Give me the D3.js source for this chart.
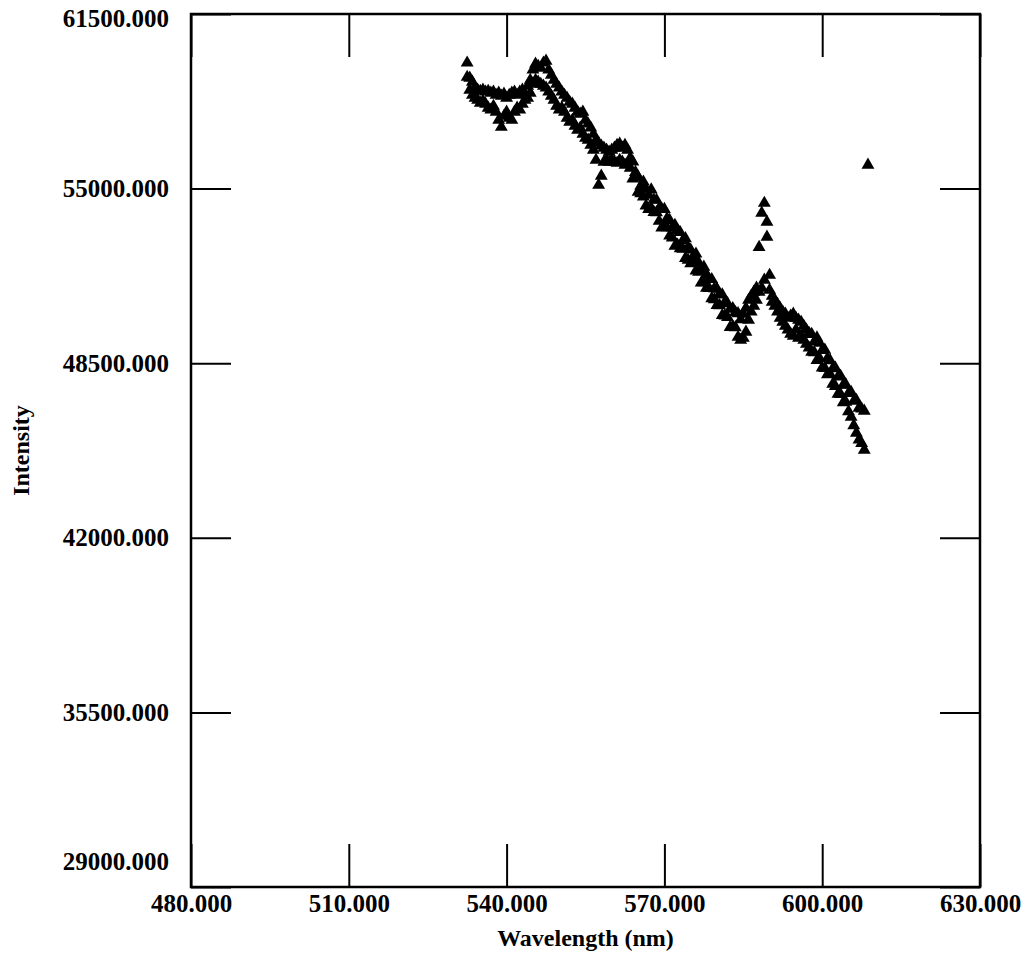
<!DOCTYPE html>
<html lang="en">
<head>
    <meta charset="UTF-8">
    <title>Intensity vs Wavelength</title>
    <script src="https://d3js.org/d3.v7.min.js"></script>
    <style>
        body {
            margin: 0;
            background: #fff;
        }
        svg {
            display: block;
            font-family: 'Liberation Serif', 'DejaVu Serif', serif;
        }
        .tick text {
            font-family: 'Liberation Serif', 'DejaVu Serif', serif;
            font-size: 25px;
            font-weight: bold;
            fill: #000;
        }
        .axis-title {
            font-family: 'Liberation Serif', 'DejaVu Serif', serif;
            font-size: 24px;
            font-weight: bold;
            fill: #000;
        }
    </style>
</head>
<body>
    <div id="chart"></div>
    <script>
        // tick labels
        const xTicks = [480, 510, 540, 570, 600, 630];
        const yTicks = [29000, 35500, 42000, 48500, 55000, 61500];

        // wavelength grid (nm) shared by both scans
        const wavelengths = [
            532.5, 533.0, 533.5, 534.0, 534.5, 535.0, 535.5, 536.0, 536.5, 537.0,
            537.5, 538.0, 538.5, 539.0, 539.5, 540.0, 540.5, 541.0, 541.5, 542.0,
            542.5, 543.0, 543.5, 544.0, 544.5, 545.0, 545.5, 546.0, 546.5, 547.0,
            547.5, 548.0, 548.5, 549.0, 549.5, 550.0, 550.5, 551.0, 551.5, 552.0,
            552.5, 553.0, 553.5, 554.0, 554.5, 555.0, 555.5, 556.0, 556.5, 557.0,
            557.5, 558.0, 558.5, 559.0, 559.5, 560.0, 560.5, 561.0, 561.5, 562.0,
            562.5, 563.0, 563.5, 564.0, 564.5, 565.0, 565.5, 566.0, 566.5, 567.0,
            567.5, 568.0, 568.5, 569.0, 569.5, 570.0, 570.5, 571.0, 571.5, 572.0,
            572.5, 573.0, 573.5, 574.0, 574.5, 575.0, 575.5, 576.0, 576.5, 577.0,
            577.5, 578.0, 578.5, 579.0, 579.5, 580.0, 580.5, 581.0, 581.5, 582.0,
            582.5, 583.0, 583.5, 584.0, 584.5, 585.0, 585.5, 586.0, 586.5, 587.0,
            587.5, 588.0, 588.5, 589.0, 589.5, 590.0, 590.5, 591.0, 591.5, 592.0,
            592.5, 593.0, 593.5, 594.0, 594.5, 595.0, 595.5, 596.0, 596.5, 597.0,
            597.5, 598.0, 598.5, 599.0, 599.5, 600.0, 600.5, 601.0, 601.5, 602.0,
            602.5, 603.0, 603.5, 604.0, 604.5, 605.0, 605.5, 606.0, 606.5, 607.0,
            607.5, 608.0
        ];

        // upper scan intensities
        const upperScan = [
            59680, 59120, 58970, 58750, 58670, 58630, 58670, 58600, 58630, 58560,
            58600, 58480, 58560, 58450, 58520, 58370, 58480, 58560, 58600, 58480,
            58600, 58670, 58520, 58820, 59040, 59420, 59640, 59560, 59490, 59680,
            59750, 59420, 59230, 59040, 58890, 58750, 58600, 58480, 58370, 58220,
            58150, 58000, 57850, 57780, 57850, 57550, 57410, 57260, 57030, 56810,
            56700, 56590, 56510, 56440, 56360, 56440, 56510, 56620, 56660, 56510,
            56620, 56440, 56140, 56000, 55610, 55430, 55100, 55250, 54990, 54760,
            54960, 54580, 54570, 54260, 54230, 54230, 53890, 53820, 53540, 53640,
            53450, 53370, 53070, 53140, 52820, 52720, 52490, 52570, 52250, 51950,
            52080, 51810, 51620, 51620, 51280, 51260, 51080, 51050, 50780, 50720,
            50520, 50540, 50390, 50350, 50130, 50330, 50550, 50850, 51000, 51150,
            51300, 52820, 54090, 54460, 53760, 51780, 51000, 50850, 50700, 50550,
            50410, 50330, 50180, 50260, 50330, 50180, 50110, 50030, 49880, 49740,
            49620, 49580, 49300, 49450, 49250, 48980, 48990, 48680, 48600, 48300,
            48320, 47990, 48020, 47690, 47700, 47380, 47420, 47090, 47120, 46830,
            46800, 46720
        ];

        // lower scan intensities
        const lowerScan = [
            59150, 58670, 58480, 58370, 58300, 58190, 58260, 58150, 58000, 57930,
            58070, 57850, 57550, 57290, 57700, 57850, 57630, 57550, 57850, 58000,
            57930, 58150, 58300, 58370, 58560, 58890, 59040, 58970, 58890, 58820,
            58750, 58600, 58450, 58300, 58070, 57930, 58000, 57850, 57630, 57480,
            57550, 57330, 57180, 57260, 57030, 56880, 56810, 56620, 56440, 56060,
            55130, 55470, 55990, 56060, 55990, 56060, 55990, 55950, 56060, 55990,
            55880, 55920, 55770, 55370, 55400, 54870, 54820, 54700, 54360, 54230,
            54270, 54120, 54110, 53790, 53540, 53590, 53550, 53240, 53170, 52860,
            52900, 52770, 52750, 52410, 52340, 52210, 52250, 51940, 51890, 51490,
            51500, 51300, 51290, 50910, 50870, 50660, 50650, 50280, 50270, 50210,
            49840, 49860, 49830, 49470, 49360, 49440, 49660, 50110, 50410, 50630,
            50850, 51150, 51300, 51600, 53200, 51220, 50780, 50630, 50410, 50180,
            50030, 49880, 49740, 49590, 49510, 49740, 49440, 49510, 49360, 49210,
            49070, 48920, 48900, 48610, 48680, 48330, 48310, 48080, 48090, 47720,
            47640, 47350, 47340, 47040, 47050, 46700, 46500, 46180, 45900, 45650,
            45520, 45270
        ];

        // isolated point
        const strayWavelengths = [608.7];
        const strayIntensities = [55880];

        const W = 1033, H = 961;
        const margin = {top: 14, right: 53, bottom: 74, left: 191};
        const width = W - margin.left - margin.right;
        const height = H - margin.top - margin.bottom;

        const svg = d3.select("#chart")
            .append("svg")
            .attr("width", W)
            .attr("height", H);

        const g = svg.append("g")
            .attr("transform", `translate(${margin.left},${margin.top})`);

        const x = d3.scaleLinear().domain([480, 630]).range([0, width]);
        const y = d3.scaleLinear().domain([29000, 61500]).range([height, 0]);
        const fmt = d3.format(".3f");

        // bottom axis with labels, inward ticks
        g.append("g")
            .attr("transform", `translate(0,${height})`)
            .call(d3.axisBottom(x).tickValues(xTicks).tickFormat(fmt)
                .tickSizeInner(-43).tickSizeOuter(0).tickPadding(7))
            .call(a => a.select(".domain").remove());

        // top axis, ticks only
        g.append("g")
            .call(d3.axisTop(x).tickValues(xTicks).tickFormat("")
                .tickSizeInner(-43).tickSizeOuter(0))
            .call(a => a.select(".domain").remove());

        // left axis with labels
        const yAxis = g.append("g")
            .call(d3.axisLeft(y).tickValues(yTicks).tickFormat(fmt)
                .tickSizeInner(-40).tickSizeOuter(0).tickPadding(22))
            .call(a => a.select(".domain").remove());

        // right axis, ticks only
        g.append("g")
            .attr("transform", `translate(${width},0)`)
            .call(d3.axisRight(y).tickValues(yTicks).tickFormat("")
                .tickSizeInner(-40).tickSizeOuter(0))
            .call(a => a.select(".domain").remove());

        g.selectAll(".tick line")
            .attr("stroke", "#000")
            .attr("stroke-width", 2);

        // nudge the end labels the way the original does
        yAxis.selectAll(".tick text")
            .attr("dy", d => d === 29000 ? "-0.7em" : d === 61500 ? "0.5em" : "0.32em");

        // frame
        g.append("rect")
            .attr("width", width)
            .attr("height", height)
            .attr("fill", "none")
            .attr("stroke", "#000")
            .attr("stroke-width", 2.5);

        // axis titles
        svg.append("text")
            .attr("class", "axis-title")
            .attr("x", margin.left + width / 2)
            .attr("y", 946)
            .attr("text-anchor", "middle")
            .text("Wavelength (nm)");

        svg.append("text")
            .attr("class", "axis-title")
            .attr("transform", `translate(29,${margin.top + height / 2}) rotate(-90)`)
            .attr("text-anchor", "middle")
            .text("Intensity");

        // triangle markers
        const tri = d3.symbol().type(d3.symbolTriangle).size(72);

        const points = [];
        wavelengths.forEach((w, i) => {
            points.push([w, upperScan[i]]);
            points.push([w, lowerScan[i]]);
        });
        strayWavelengths.forEach((w, i) => points.push([w, strayIntensities[i]]));

        g.selectAll(".pt")
            .data(points)
            .enter()
            .append("path")
            .attr("class", "pt")
            .attr("d", tri)
            .attr("transform", d => `translate(${x(d[0])},${y(d[1])})`)
            .attr("fill", "#000");
    </script>
</body>
</html>
